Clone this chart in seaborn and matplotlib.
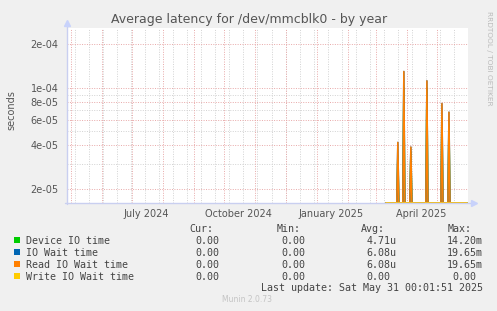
import numpy as np
import pandas as pd
import matplotlib
matplotlib.use("Agg")
import matplotlib.pyplot as plt
import seaborn as sns
from matplotlib.lines import Line2D
from matplotlib.patches import Rectangle

# ---------------- data ----------------
data_start = "2025-03-11"
data_end = "2025-05-31"
spike_dates = ["2025-03-23", "2025-03-29", "2025-04-05", "2025-04-21", "2025-05-06", "2025-05-13"]
device_io = [3.4e-05, 1.00e-04, 3.6e-05, 1.00e-04, 6.2e-05, 5.6e-05]
io_wait = [4.2e-05, 1.30e-04, 3.9e-05, 1.12e-04, 7.8e-05, 6.8e-05]
read_wait = [4.2e-05, 1.30e-04, 3.9e-05, 1.12e-04, 7.8e-05, 6.8e-05]
write_wait = [0.0, 0.0, 0.0, 0.0, 0.0, 0.0]

series_names = ["Device IO time", "IO Wait time", "Read IO Wait time", "Write IO Wait time"]
series_colors = ["#00CC00", "#0066B3", "#FF8000", "#FFCC00"]
cur_vals = ["0.00 ", "0.00 ", "0.00 ", "0.00 "]
min_vals = ["0.00 ", "0.00 ", "0.00 ", "0.00 "]
avg_vals = ["4.71u", "6.08u", "6.08u", "0.00 "]
max_vals = ["14.20m", "19.65m", "19.65m", "0.00 "]

ytick_vals = [2e-05, 4e-05, 6e-05, 8e-05, 1e-04, 2e-04]
ytick_labels = ["2e-05", "4e-05", "6e-05", "8e-05", "1e-04", "2e-04"]
yminor_vals = [3e-05, 5e-05, 7e-05, 9e-05]
xtick_dates = ["2024-07-15", "2024-10-15", "2025-01-15", "2025-04-15"]
xtick_labels = ["July 2024", "October 2024", "January 2025", "April 2025"]
month_starts = ["2024-05-01", "2024-06-01", "2024-07-01", "2024-08-01", "2024-09-01",
                "2024-10-01", "2024-11-01", "2024-12-01", "2025-01-01", "2025-02-01",
                "2025-03-01", "2025-04-01", "2025-05-01"]
x_start, x_end = "2024-04-27", "2025-06-01"
y_bottom, y_top = 1.60e-05, 2.60e-04

# ---------------- build long table ----------------
days = pd.date_range(data_start, data_end, freq="D")
rows = []
for name, vals in zip(series_names, [device_io, io_wait, read_wait, write_wait]):
    s = pd.Series(0.0, index=days)
    for d, v in zip(spike_dates, vals):
        s[pd.Timestamp(d)] = v
    for d, v in s.items():
        rows.append({"date": d, "series": name, "value": max(v, y_bottom)})
df = pd.DataFrame(rows)

# ---------------- figure ----------------
W, H = 497, 311
sns.set_style("white")
plt.rcParams["font.family"] = ["DejaVu Sans"]
fig = plt.figure(figsize=(W / 100, H / 100), dpi=100, facecolor="#f0f0f0")
L, R, T, B = 67, 468, 28, 203
ax = fig.add_axes([L / W, 1 - B / H, (R - L) / W, (B - T) / H])
ax.set_facecolor("white")

def fx(x):
    return x / W

def fy(y):
    return 1 - y / H

# grid (dotted)
grey = "#d2d2d2"
red = "#e8a8a8"
gkw = dict(lw=0.7, dashes=(1, 1.5))
minor_x = pd.date_range("2024-05-05", x_end, freq="14D")
for d in minor_x:
    ax.axvline(d, color=grey, zorder=0, **gkw)
for d in month_starts:
    ax.axvline(pd.Timestamp(d), color=red, zorder=0.5, **gkw)
for v in yminor_vals:
    ax.axhline(v, color=grey, zorder=0, **gkw)
for v in ytick_vals:
    ax.axhline(v, color=red, zorder=0.5, **gkw)

sns.lineplot(data=df, x="date", y="value", hue="series", hue_order=series_names,
             palette=dict(zip(series_names, series_colors)), legend=False,
             linewidth=1.1, ax=ax, zorder=3, estimator=None)

ax.set_yscale("log")
ax.set_ylim(y_bottom, y_top)
ax.set_xlim(pd.Timestamp(x_start), pd.Timestamp(x_end))
ax.set_yticks(ytick_vals)
ax.set_yticklabels(ytick_labels)
ax.yaxis.set_minor_locator(matplotlib.ticker.NullLocator())
ax.set_xticks([pd.Timestamp(d) for d in xtick_dates])
ax.set_xticklabels(xtick_labels)
ax.tick_params(axis="both", length=0, labelsize=7, labelcolor="#555555", pad=3)
ax.tick_params(axis="y", pad=6)
ax.tick_params(axis="x", pad=4)
ax.set_xlabel("")
ax.set_ylabel("")
for sp in ax.spines.values():
    sp.set_visible(False)

# axis lines with arrows
axis_col = "#c9cff0"
fig.add_artist(Line2D([fx(L), fx(L)], [fy(B + 1), fy(24)], color=axis_col, lw=1))
fig.add_artist(Line2D([fx(L - 2), fx(473)], [fy(B), fy(B)], color=axis_col, lw=1))
fig.add_artist(Line2D([fx(L)], [fy(23)], marker="^", markersize=5, color="#c8d2fb", lw=0))
fig.add_artist(Line2D([fx(474)], [fy(B)], marker=">", markersize=5, color="#c8d2fb", lw=0))

# texts
fig.text(fx(249), fy(22.5), "Average latency for /dev/mmcblk0 - by year",
         ha="center", va="baseline", fontsize=9, color="#555555")
fig.text(fx(11), fy(110), "seconds", rotation=90, ha="center", va="center",
         fontsize=7, color="#555555")
fig.text(fx(489), fy(58), "RRDTOOL / TOBI OETIKER", rotation=270, ha="center",
         va="center", fontsize=5.3, color="#bbbbbb")

mono = "DejaVu Sans Mono"
fs = 7.2
cw = 6.0
tc = "#444444"
col_right = [225.3, 311.7, 396.7, 482.7]
headers = ["Cur:", "Min:", "Avg:", "Max:"]
for h, xr in zip(headers, col_right):
    fig.text(fx(xr - 2 * cw + 0.5), fy(232), h, ha="right", va="baseline",
             fontsize=fs, family=mono, color=tc)
base_rows = [243.5, 255.5, 267.5, 279.5]
for i, name in enumerate(series_names):
    yb = base_rows[i]
    fig.add_artist(Rectangle((fx(14), fy(yb - 0.5)), 6 / W, 6 / H,
                             color=series_colors[i], lw=0))
    fig.text(fx(26), fy(yb), name, ha="left", va="baseline", fontsize=fs,
             family=mono, color=tc)
    for vals, xr in zip([cur_vals, min_vals, avg_vals, max_vals], col_right):
        s = vals[i]
        if s.endswith(" "):
            fig.text(fx(xr - cw), fy(yb), s.rstrip(), ha="right", va="baseline",
                     fontsize=fs, family=mono, color=tc)
        else:
            fig.text(fx(xr), fy(yb), s, ha="right", va="baseline",
                     fontsize=fs, family=mono, color=tc)
fig.text(fx(482.7), fy(291), "Last update: Sat May 31 00:01:51 2025", ha="right",
         va="baseline", fontsize=fs, family=mono, color=tc)
fig.text(fx(247.5), fy(299), "Munin 2.0.73", ha="center", va="center",
         fontsize=5.5, color="#c4c4c4")

fig.savefig("out.png", dpi=100, facecolor=fig.get_facecolor())
